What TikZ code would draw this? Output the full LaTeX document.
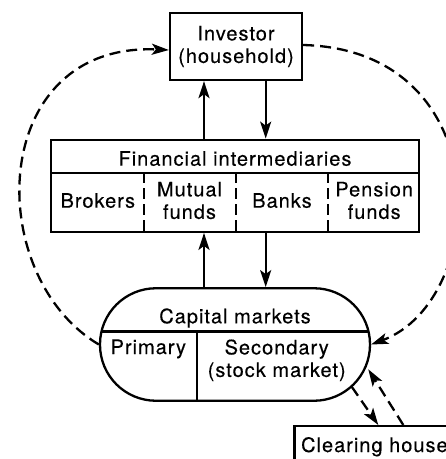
\documentclass[tikz,border=0pt]{standalone}
\usepackage{fontspec}
\setmainfont{TeX Gyre Heros}[LetterSpace=5, FakeBold=0.3]
\usetikzlibrary{arrows.meta}

\begin{document}
\begin{tikzpicture}[x=1pt, y=-1pt, line width=2.3pt,
  every node/.style={font=\fontsize{20}{22.5}\selectfont, inner sep=0pt},
  box/.style={draw, rectangle},
  lbl/.style={anchor=base},
  twoline/.style={align=center, anchor=center},
  arr/.style={-{Stealth[length=17pt, width=11pt, inset=4pt]}},
  flowarr/.style={arr, dash pattern=on 11pt off 6pt},
  cellsep/.style={dash pattern=on 11pt off 5pt}]
\useasboundingbox (0,0) rectangle (446,459);

% investor
\node[box, minimum width=132, minimum height=67, twoline] (inv) at (236,46.5)
  {Investor\\(household)};

% financial intermediaries: header and body
\node[box, minimum width=368, minimum height=33.5] (fihead) at (235,156.5) {};
\node[box, minimum width=368, minimum height=58.5] (fibody) at (235,202.5) {};
\node[lbl] (fititle) at (235,165.7) {Financial intermediaries};
\coordinate (sepA) at (144,0);
\coordinate (sepB) at (236,0);
\coordinate (sepC) at (328,0);
\foreach \s in {sepA,sepB,sepC}
  \draw[cellsep] (fibody.north -| \s) -- (fibody.south -| \s);
\node[lbl] (brokers) at (97.8,207.7) {Brokers};
\node[twoline] (mutual) at (189.5,200.5) {Mutual\\funds};
\node[lbl] (banks) at (282,207.7) {Banks};
\node[twoline] (pension) at (374.2,200.5) {Pension\\funds};

% capital markets
\node[draw, rectangle, rounded corners=56pt, minimum width=270, minimum height=112.5]
  (cm) at (235,344.5) {};
\coordinate (cmL) at (101.5,331.5);
\coordinate (cmR) at (368.5,331.5);
\coordinate (cmV) at (196.7,331.5);
\draw (cmL) -- (cmR);
\draw (cmV) -- (cm.south -| cmV);
\node[lbl] (cmtitle) at (235,323.3) {Capital markets};
\node[lbl] (primary) at (148.3,354) {Primary};
\node[twoline] (secondary) at (276.7,360.3) {Secondary\\(stock market)};

% clearing house
\node[box, anchor=north west, minimum width=200, minimum height=50] (clr) at (293.3,425) {};
\node[anchor=base west] (clrtxt) at (300,452) {Clearing house};

% vertical flows
\coordinate (upx) at (204,0);
\coordinate (dnx) at (265.7,0);
\draw[arr] (fihead.north -| upx) -- (inv.south -| upx);
\draw[arr] (inv.south -| dnx) -- (fihead.north -| dnx);
\draw[arr] (cm.north -| upx) -- (fibody.south -| upx);
\draw[arr] (fibody.south -| dnx) -- (cm.north -| dnx);

% dashed loops
\draw[flowarr] (cm.west) .. controls (-18,275) and (-12,42) .. ([yshift=-3.5pt]inv.west);
\draw[flowarr] ([yshift=1.5pt]inv.east) .. controls (500,50) and (490,300) .. (cm.east);

% exchange with the clearing house
\coordinate (cmout) at (351.7,386.7);
\coordinate (cmin) at (368.3,369.3);
\draw[flowarr] (cmout) -- ([xshift=85pt]clr.north west);
\draw[flowarr] ([xshift=110pt]clr.north west) -- (cmin);
\end{tikzpicture}
\end{document}
